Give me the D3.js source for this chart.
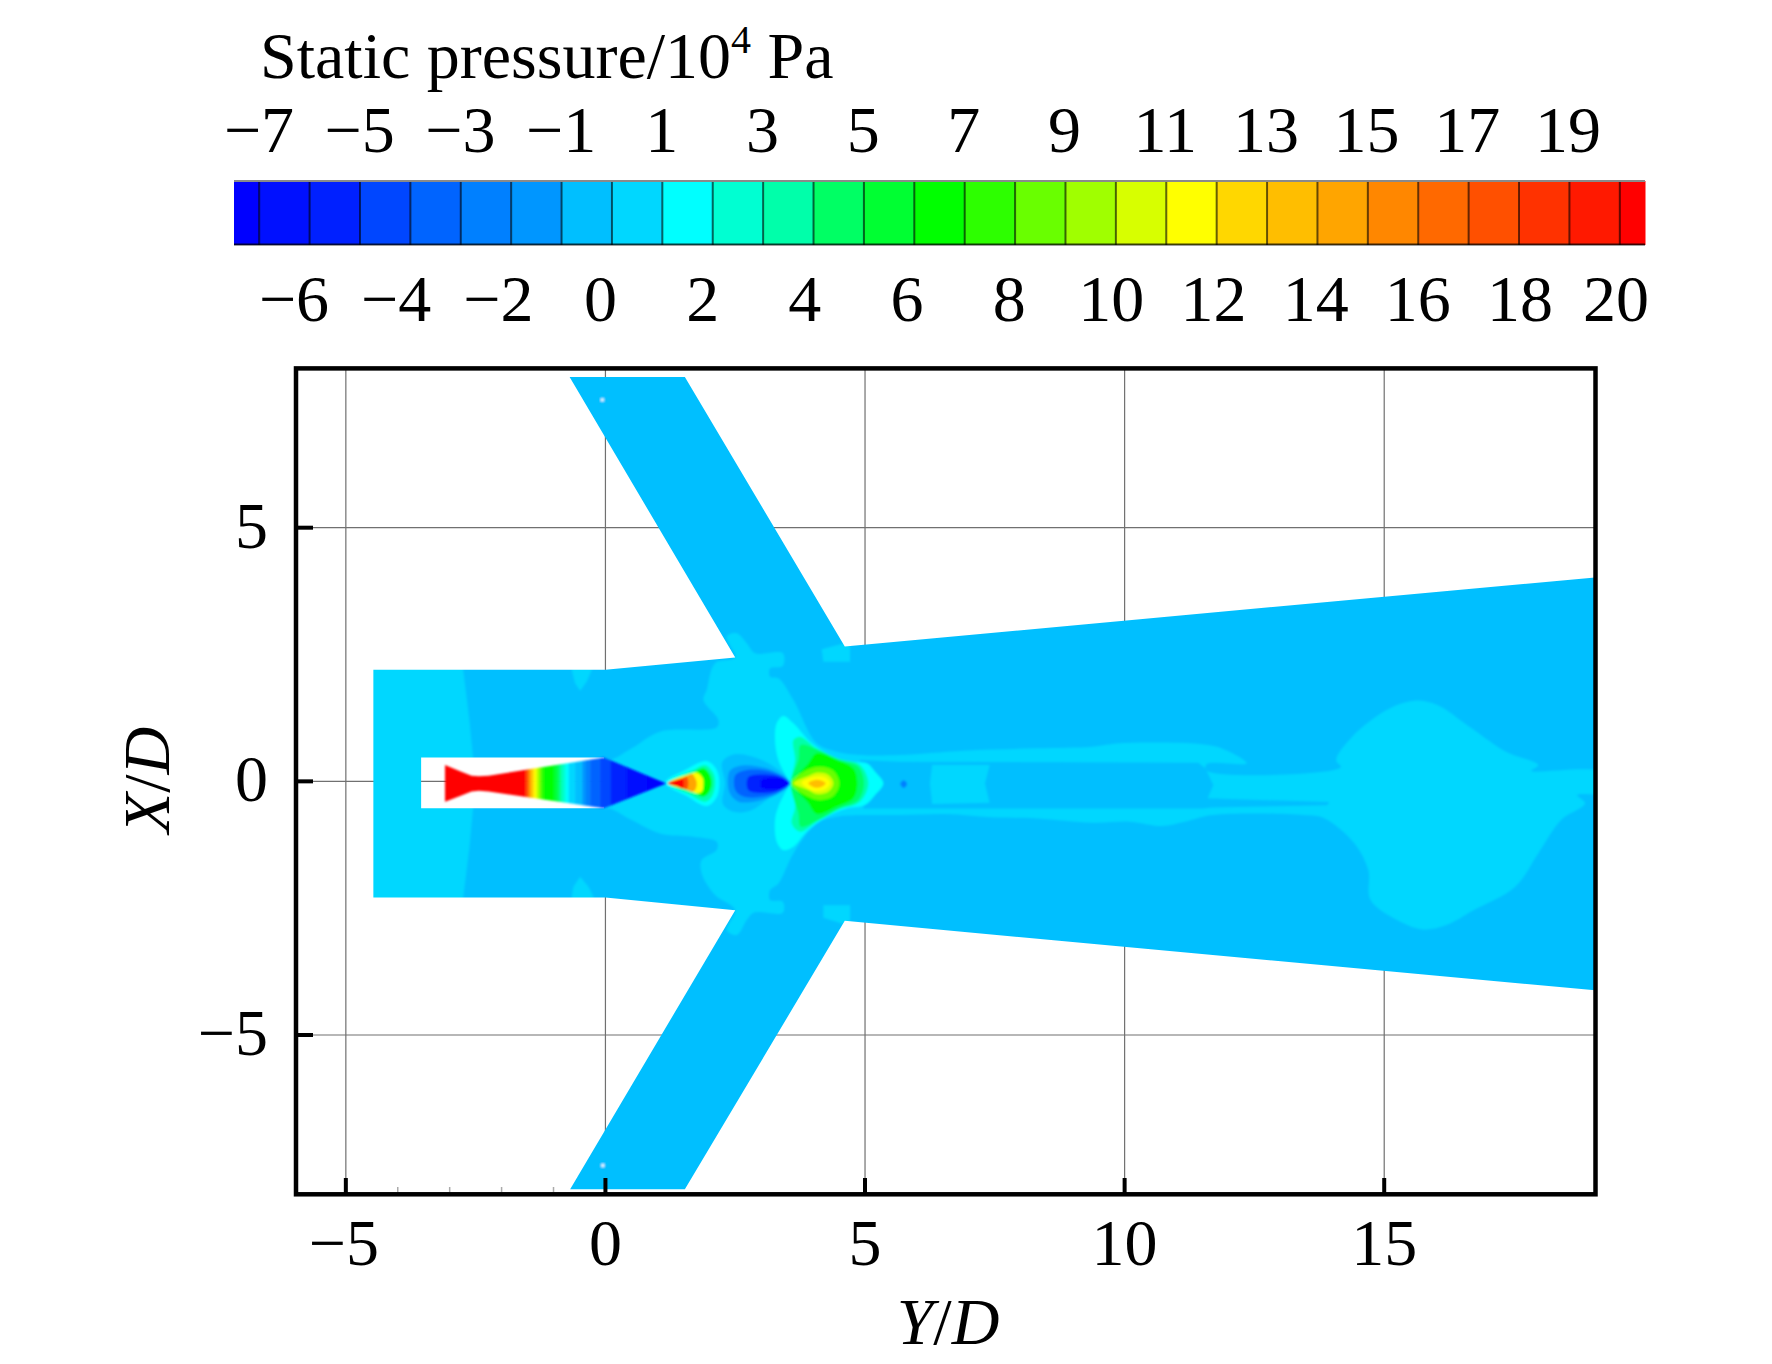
<!DOCTYPE html>
<html><head><meta charset="utf-8">
<script src="https://cdn.jsdelivr.net/npm/d3@7"></script>
<style>html,body{margin:0;padding:0;background:#fff}svg{display:block}text{font-family:"Liberation Serif",serif;fill:#000}</style>
</head><body><svg id="c" width="1772" height="1364"></svg>
<script>
// Colour bar
const legendBandColors=["#0000ff","#0010ff","#0020ff","#0046ff","#0064ff","#0080ff","#0096ff","#00bfff","#00d7ff","#00ffff","#00ffd2","#00ffaa","#00ff64","#00ff32","#00ff00","#2dff00","#69ff00","#a0ff00","#d7ff00","#ffff00","#ffd700","#ffbe00","#ffa500","#ff8700","#ff6900","#ff5000","#ff3200","#ff1900","#ff0000"];
const legendThresholds=d3.range(-6.5,21,1);
const legendTopTicks=[-7,-5,-3,-1,1,3,5,7,9,11,13,15,17,19];
const legendBottomTicks=[-6,-4,-2,0,2,4,6,8,10,12,14,16,18,20];
const xTicks=[-5,0,5,10,15], yTicks=[-5,0,5], xMinorTicks=[-4,-3,-2,-1];
// Geometry of the flow domain (Y/D, X/D)
const domainOutline=[[-4.47,2.2],[0,2.2],[2.5,2.44],[2.5,2.44],[-0.69,7.97],[1.53,7.97],[4.61,2.66],[19.06,4.02],[19.06,-4.12],[4.61,-2.75],[1.53,-8.04],[-0.68,-8.04],[2.5,-2.54],[0,-2.29],[-4.47,-2.29]];
const nozzleHole=[[-3.55,0.47],[-0.03,0.47],[-0.03,-0.53],[-3.55,-0.53]];
const jetOutline=[[-3.09,0.32],[-2.8,0.2],[-2.58,0.11],[-2.44,0.1],[-2.25,0.11],[-0.03,0.47],[1.17,-0.04],[-0.03,-0.53],[-2.25,-0.2],[-2.44,-0.185],[-2.58,-0.2],[-2.8,-0.29],[-3.09,-0.4]];
// Jet stripes: start position and pressure
const jetStripeStart=[-3.09,-1.546,-1.505,-1.464,-1.436,-1.408,-1.374,-1.34,-1.305,-1.271,-1.237,-1.188,-0.996,-0.927,-0.872,-0.824,-0.769,-0.707,-0.583,-0.446,-0.377,-0.294,-0.102,0.105,0.414,0.792,1.17];
const jetStripeLevel=[21,19,17,15,14,13,12,11,10,9,8,7,6,5,4,3,2,1,0,-1,-2,-3,-4,-5,-6,-7];
// Pressure contours
const inletStrip=[[-5,2.5],[-2.74,2.5],[-2.74,2.2],[-2.62,1.2],[-2.55,0.47],[-2.55,-0.53],[-2.62,-1.3],[-2.74,-2.29],[-2.74,-2.6],[-5,-2.6]];
const wallBumpTop=[[-0.648,2.3],[-0.263,2.3],[-0.263,2.2],[-0.359,1.966],[-0.488,1.788],[-0.584,1.933],[-0.648,2.2]];
const wallBumpBottom=[[-0.648,-2.35],[-0.231,-2.35],[-0.231,-2.275],[-0.327,-2.08],[-0.488,-1.88],[-0.616,-2.08],[-0.648,-2.275]];
const patchTop=[[4.166,2.604],[4.711,2.75],[4.711,2.36],[4.198,2.36]];
const patchBottom=[[4.198,-2.44],[4.711,-2.44],[4.711,-2.85],[4.198,-2.69]];
const plumeBand=[[-0.07,0.454],[0.09,0.421],[0.507,0.651],[1.053,0.98],[2.144,1.065],[2.176,1.21],[1.887,1.604],[1.951,1.801],[2.112,2.327],[2.497,2.446],[2.336,2.853],[2.529,2.919],[2.721,2.722],[2.882,2.525],[3.415,2.525],[3.415,2.275],[3.171,2.229],[3.171,2.064],[3.331,2.032],[3.62,1.604],[4.069,0.75],[4.454,0.585],[4.904,0.519],[5.675,0.519],[6.913,0.605],[8.327,0.651],[9.389,0.684],[9.919,0.75],[11.422,0.736],[11.864,0.651],[12.35,0.355],[11.58,0.342],[11.58,0.21],[14.163,0.276],[14.075,0.421],[14.384,0.881],[15.047,1.407],[15.578,1.591],[16.02,1.506],[16.639,1.078],[17.346,0.585],[17.965,0.322],[17.833,0.21],[19.2,0.171],[19.2,-0.22],[18.717,-0.27],[18.867,-0.434],[18.407,-0.763],[17.965,-1.42],[17.523,-2.078],[16.727,-2.538],[16.197,-2.834],[15.754,-2.919],[15.313,-2.768],[14.738,-2.341],[14.694,-1.749],[14.428,-1.223],[13.854,-0.73],[13.456,-0.664],[11.687,-0.664],[11.157,-0.796],[10.715,-0.881],[10.096,-0.796],[9.389,-0.815],[8.327,-0.73],[7.443,-0.71],[6.559,-0.644],[5.675,-0.664],[4.904,-0.664],[4.454,-0.697],[4.069,-0.828],[3.62,-1.42],[3.331,-2.012],[3.171,-2.143],[3.171,-2.341],[3.415,-2.373],[3.415,-2.59],[2.85,-2.59],[2.721,-2.735],[2.529,-3.031],[2.336,-2.932],[2.497,-2.538],[2.112,-2.242],[1.855,-1.815],[1.855,-1.552],[2.144,-1.354],[2.144,-1.19],[1.694,-1.091],[1.053,-1.026],[0.507,-0.763],[0.09,-0.533],[-0.07,-0.533]];
const plumeCore=[[4.9,0.42],[5.675,0.388],[11.42,0.368],[11.555,0.256],[11.71,-0.072],[11.6,-0.335],[13.94,-0.408],[13.9,-0.473],[11.69,-0.513],[11.51,-0.533],[5.675,-0.533],[4.97,-0.533]];
const coreSquare=[[6.294,0.322],[7.399,0.322],[7.31,-0.04],[7.399,-0.42],[6.294,-0.447],[6.25,-0.04]];
const coreDot=[[5.68,-0.05],[5.746,0.02],[5.81,-0.05],[5.746,-0.13]];
const shockA2=[[1.149,-0.026],[1.534,0.224],[1.951,0.401],[2.144,0.224],[2.195,-0.072],[2.131,-0.335],[1.951,-0.487],[1.566,-0.289]];
const shockA4=[[1.213,-0.039],[1.694,0.224],[1.919,0.322],[2.08,0.158],[2.112,-0.072],[2.047,-0.302],[1.919,-0.401],[1.598,-0.25]];
const shockA7=[[1.245,-0.039],[1.694,0.171],[1.887,0.256],[2.015,0.125],[2.047,-0.072],[1.983,-0.237],[1.887,-0.302],[1.662,-0.204]];
const shockA12=[[1.213,-0.039],[1.63,0.145],[1.771,0.171],[1.874,0.059],[1.887,-0.072],[1.855,-0.204],[1.759,-0.237],[1.598,-0.171]];
const shockA15=[[1.213,-0.039],[1.534,0.092],[1.662,0.145],[1.746,0.026],[1.759,-0.072],[1.727,-0.171],[1.662,-0.204],[1.502,-0.138]];
const shockA18=[[1.213,-0.039],[1.47,0.059],[1.566,0.092],[1.598,-0.039],[1.566,-0.158],[1.438,-0.105]];
const shockA21=[[1.194,-0.039],[1.406,0.026],[1.489,0.039],[1.515,-0.039],[1.489,-0.138],[1.374,-0.092]];
const lowP0=[[2.25,0.38],[2.465,0.53],[2.786,0.5],[3.235,0.3],[3.556,-0.039],[3.171,-0.32],[2.786,-0.58],[2.465,-0.6],[2.26,-0.44],[2.3,-0.039]];
const lowPm1=[[2.39,0.2],[2.561,0.3],[2.914,0.3],[3.299,0.18],[3.556,-0.039],[3.299,-0.26],[2.914,-0.39],[2.561,-0.4],[2.39,-0.22]];
const lowPm3=[[2.5,0.12],[2.657,0.21],[2.978,0.23],[3.363,0.12],[3.556,-0.039],[3.363,-0.2],[2.978,-0.31],[2.657,-0.3],[2.5,-0.17]];
const lowPm5=[[2.75,0.08],[3.042,0.135],[3.363,0.09],[3.543,-0.039],[3.363,-0.17],[3.042,-0.23],[2.75,-0.17]];
const lowPm7=[[3.0,0.02],[3.235,0.07],[3.427,0.045],[3.524,-0.039],[3.427,-0.125],[3.235,-0.16],[3.0,-0.11]];
const shockB2=[[3.299,1.144],[3.427,1.289],[3.62,1.144],[3.941,0.782],[4.262,0.552],[4.647,0.388],[5.032,0.355],[5.193,0.191],[5.353,-0.039],[5.193,-0.27],[5.0,-0.467],[4.647,-0.533],[4.262,-0.697],[3.877,-0.993],[3.62,-1.289],[3.427,-1.354],[3.299,-1.19],[3.267,-0.763],[3.331,-0.5],[3.524,-0.105],[3.569,-0.039],[3.524,0.026],[3.331,0.421],[3.267,0.815]];
const shockB4=[[3.62,0.815],[3.748,0.881],[4.069,0.651],[4.454,0.454],[4.904,0.322],[5.064,-0.039],[4.904,-0.401],[4.454,-0.565],[4.069,-0.796],[3.748,-0.993],[3.588,-0.828],[3.652,-0.5],[3.569,-0.039],[3.652,0.421]];
const shockB5=[[3.761,0.717],[4.103,0.618],[4.519,0.421],[4.872,0.289],[4.981,-0.039],[4.872,-0.368],[4.519,-0.533],[4.103,-0.763],[3.761,-0.894],[3.716,-0.631],[3.569,-0.039],[3.716,0.421]];
const shockB7=[[3.909,0.355],[4.069,0.552],[4.454,0.421],[4.775,0.256],[4.852,-0.039],[4.775,-0.335],[4.454,-0.5],[4.069,-0.644],[3.909,-0.434],[3.62,-0.039]];
const shockB9=[[3.877,0.224],[4.133,0.289],[4.39,0.21],[4.506,-0.039],[4.39,-0.289],[4.133,-0.368],[3.877,-0.289],[3.581,-0.039]];
const shockB11=[[3.909,0.105],[4.069,0.171],[4.294,0.125],[4.39,-0.039],[4.294,-0.204],[4.069,-0.25],[3.909,-0.171],[3.62,-0.039]];
const shockB12=[[3.78,-0.026],[4.005,0.092],[4.23,0.079],[4.326,-0.039],[4.23,-0.158],[4.005,-0.184]];
const shockB14=[[3.909,-0.039],[4.037,0.026],[4.166,0.013],[4.243,-0.039],[4.166,-0.105],[4.037,-0.125]];
const armSpecks=[[-0.06,7.52],[-0.05,-7.57]];

const svg=d3.select("#c");
const x=d3.scaleLinear().domain([-5.96,19.06]).range([296,1595]);
const y=d3.scaleLinear().domain([-8.14,8.14]).range([1194.3,368.4]);
const bar=d3.scaleLinear().domain([-7,21]).range([234,1645]);
const color=d3.scaleThreshold().domain(legendThresholds).range(legendBandColors);
const topLabel=d3.scaleLinear().domain([-7,19]).range([259,1568]);
const botLabel=d3.scaleLinear().domain([-6,18,20]).range([294,1520,1616]);
const fmt=v=>String(v).replace("-","\u2212");
const pathLin=d3.line().x(d=>x(d[0])).y(d=>y(d[1])).curve(d3.curveLinearClosed);
const pathSmooth=d3.line().x(d=>x(d[0])).y(d=>y(d[1])).curve(d3.curveCatmullRomClosed.alpha(0.5));
const FS=66;

// title
const t=svg.append("text").attr("x",260).attr("y",78).attr("font-size",FS);
t.append("tspan").text("Static pressure/10");
t.append("tspan").text("4").attr("font-size",40).attr("dy",-25);
t.append("tspan").text(" Pa").attr("dy",25);

// colour bar
const edges=[-7,...legendThresholds,21];
svg.append("g").selectAll("rect").data(legendBandColors).join("rect")
 .attr("x",(d,i)=>bar(edges[i])).attr("width",(d,i)=>bar(edges[i+1])-bar(edges[i])+0.5)
 .attr("y",181).attr("height",64).attr("fill",d=>d);
svg.append("g").selectAll("line").data(legendThresholds).join("line")
 .attr("x1",d=>bar(d)).attr("x2",d=>bar(d)).attr("y1",181).attr("y2",245)
 .attr("stroke","#000").attr("stroke-opacity",0.6).attr("stroke-width",2);
svg.append("line").attr("x1",234).attr("x2",1645).attr("y1",181).attr("y2",181).attr("stroke","#8a8a8a").attr("stroke-width",2);
svg.append("line").attr("x1",234).attr("x2",1645).attr("y1",244.5).attr("y2",244.5).attr("stroke","#000").attr("stroke-opacity",0.75).attr("stroke-width",2);
svg.append("g").selectAll("text").data(legendTopTicks).join("text")
 .attr("x",d=>topLabel(d)).attr("y",152).attr("text-anchor","middle").attr("font-size",FS).text(fmt);
svg.append("g").selectAll("text").data(legendBottomTicks).join("text")
 .attr("x",d=>botLabel(d)).attr("y",321).attr("text-anchor","middle").attr("font-size",FS).text(fmt);

// grid
const grid=svg.append("g").attr("stroke","#707070").attr("stroke-width",1.2);
xTicks.forEach(v=>grid.append("line").attr("x1",x(v)).attr("x2",x(v)).attr("y1",y.range()[1]).attr("y2",y.range()[0]));
yTicks.forEach(v=>grid.append("line").attr("x1",x.range()[0]).attr("x2",x.range()[1]).attr("y1",y(v)).attr("y2",y(v)));

// field
const defs=svg.append("defs");
defs.append("filter").attr("id","soft").attr("x",0).attr("y",0).attr("width",1772).attr("height",1364).attr("filterUnits","userSpaceOnUse")
 .append("feGaussianBlur").attr("stdDeviation",1.1);
defs.append("clipPath").attr("id","dom").append("path")
 .attr("d",pathLin(domainOutline)+pathLin(nozzleHole)).attr("clip-rule","evenodd");
defs.append("clipPath").attr("id","jet").append("path").attr("d",pathLin(jetOutline));

const field=svg.append("g").attr("clip-path","url(#dom)").append("g").attr("filter","url(#soft)");
field.append("rect").attr("x",x(-6)).attr("y",y(8.14)).attr("width",x(19.5)-x(-6)).attr("height",y(-8.14)-y(8.14)).attr("fill",color(0));
const contours=[
 [inletStrip,1,0],[wallBumpTop,1,0],[wallBumpBottom,1,0],[patchTop,1,0],[patchBottom,1,0],
 [plumeBand,1,1],[plumeCore,0,0],[coreSquare,1,0],[coreDot,-2,1],
 [shockA2,2,1],[shockA4,4,1],[shockA7,7,1],[shockA12,12,1],[shockA15,15,1],[shockA18,18,1],[shockA21,21,1],
 [lowP0,0,1],[lowPm1,-1,1],[lowPm3,-3,1],[lowPm5,-5,1],[lowPm7,-7,1],
 [shockB2,2,1],[shockB4,4,1],[shockB5,5,1],[shockB7,7,1],[shockB9,9,1],[shockB11,11,1],[shockB12,12,1],[shockB14,14,1]
];
field.selectAll("path").data(contours).join("path")
 .attr("d",d=>(d[2]?pathSmooth:pathLin)(d[0])).attr("fill",d=>color(d[1]));
field.selectAll("circle").data(armSpecks).join("circle")
 .attr("cx",d=>x(d[0])).attr("cy",d=>y(d[1])).attr("r",1.6).attr("fill","#fff");

// jet stripes
const jetG=svg.append("g").attr("filter","url(#soft)").append("g").attr("clip-path","url(#jet)");
jetG.selectAll("rect").data(jetStripeLevel).join("rect")
 .attr("x",(d,i)=>x(jetStripeStart[i])).attr("width",(d,i)=>x(jetStripeStart[i+1])-x(jetStripeStart[i])+0.6)
 .attr("y",y(0.6)).attr("height",y(-0.6)-y(0.6)).attr("fill",d=>color(d));

// frame and ticks
svg.append("rect").attr("x",296).attr("y",368.4).attr("width",1299.5).attr("height",825.9)
 .attr("fill","none").attr("stroke","#000").attr("stroke-width",4.5);
const tk=svg.append("g").attr("stroke","#000").attr("stroke-width",4);
xTicks.forEach(v=>tk.append("line").attr("x1",x(v)).attr("x2",x(v)).attr("y1",1194).attr("y2",1178));
yTicks.forEach(v=>tk.append("line").attr("x1",296).attr("x2",313).attr("y1",y(v)).attr("y2",y(v)));
xMinorTicks.forEach(v=>svg.append("line").attr("x1",x(v)).attr("x2",x(v)).attr("y1",1192).attr("y2",1187).attr("stroke","#aaa").attr("stroke-width",1.5));

svg.append("g").selectAll("text").data(xTicks).join("text")
 .attr("x",d=>x(d)-(d<0?2:0)).attr("y",1265).attr("text-anchor","middle").attr("font-size",FS).text(fmt);
svg.append("g").selectAll("text").data(yTicks).join("text")
 .attr("x",268).attr("y",d=>y(d)+20).attr("text-anchor","end").attr("font-size",FS).text(fmt);

const yd=svg.append("text").attr("x",948).attr("y",1344).attr("text-anchor","middle").attr("font-size",FS);
yd.append("tspan").text("Y").attr("font-style","italic");yd.append("tspan").text("/");yd.append("tspan").text("D").attr("font-style","italic");
const xd=svg.append("text").attr("transform","translate(169,780) rotate(-90)").attr("text-anchor","middle").attr("font-size",FS);
xd.append("tspan").text("X").attr("font-style","italic");xd.append("tspan").text("/");xd.append("tspan").text("D").attr("font-style","italic");
</script></body></html>
